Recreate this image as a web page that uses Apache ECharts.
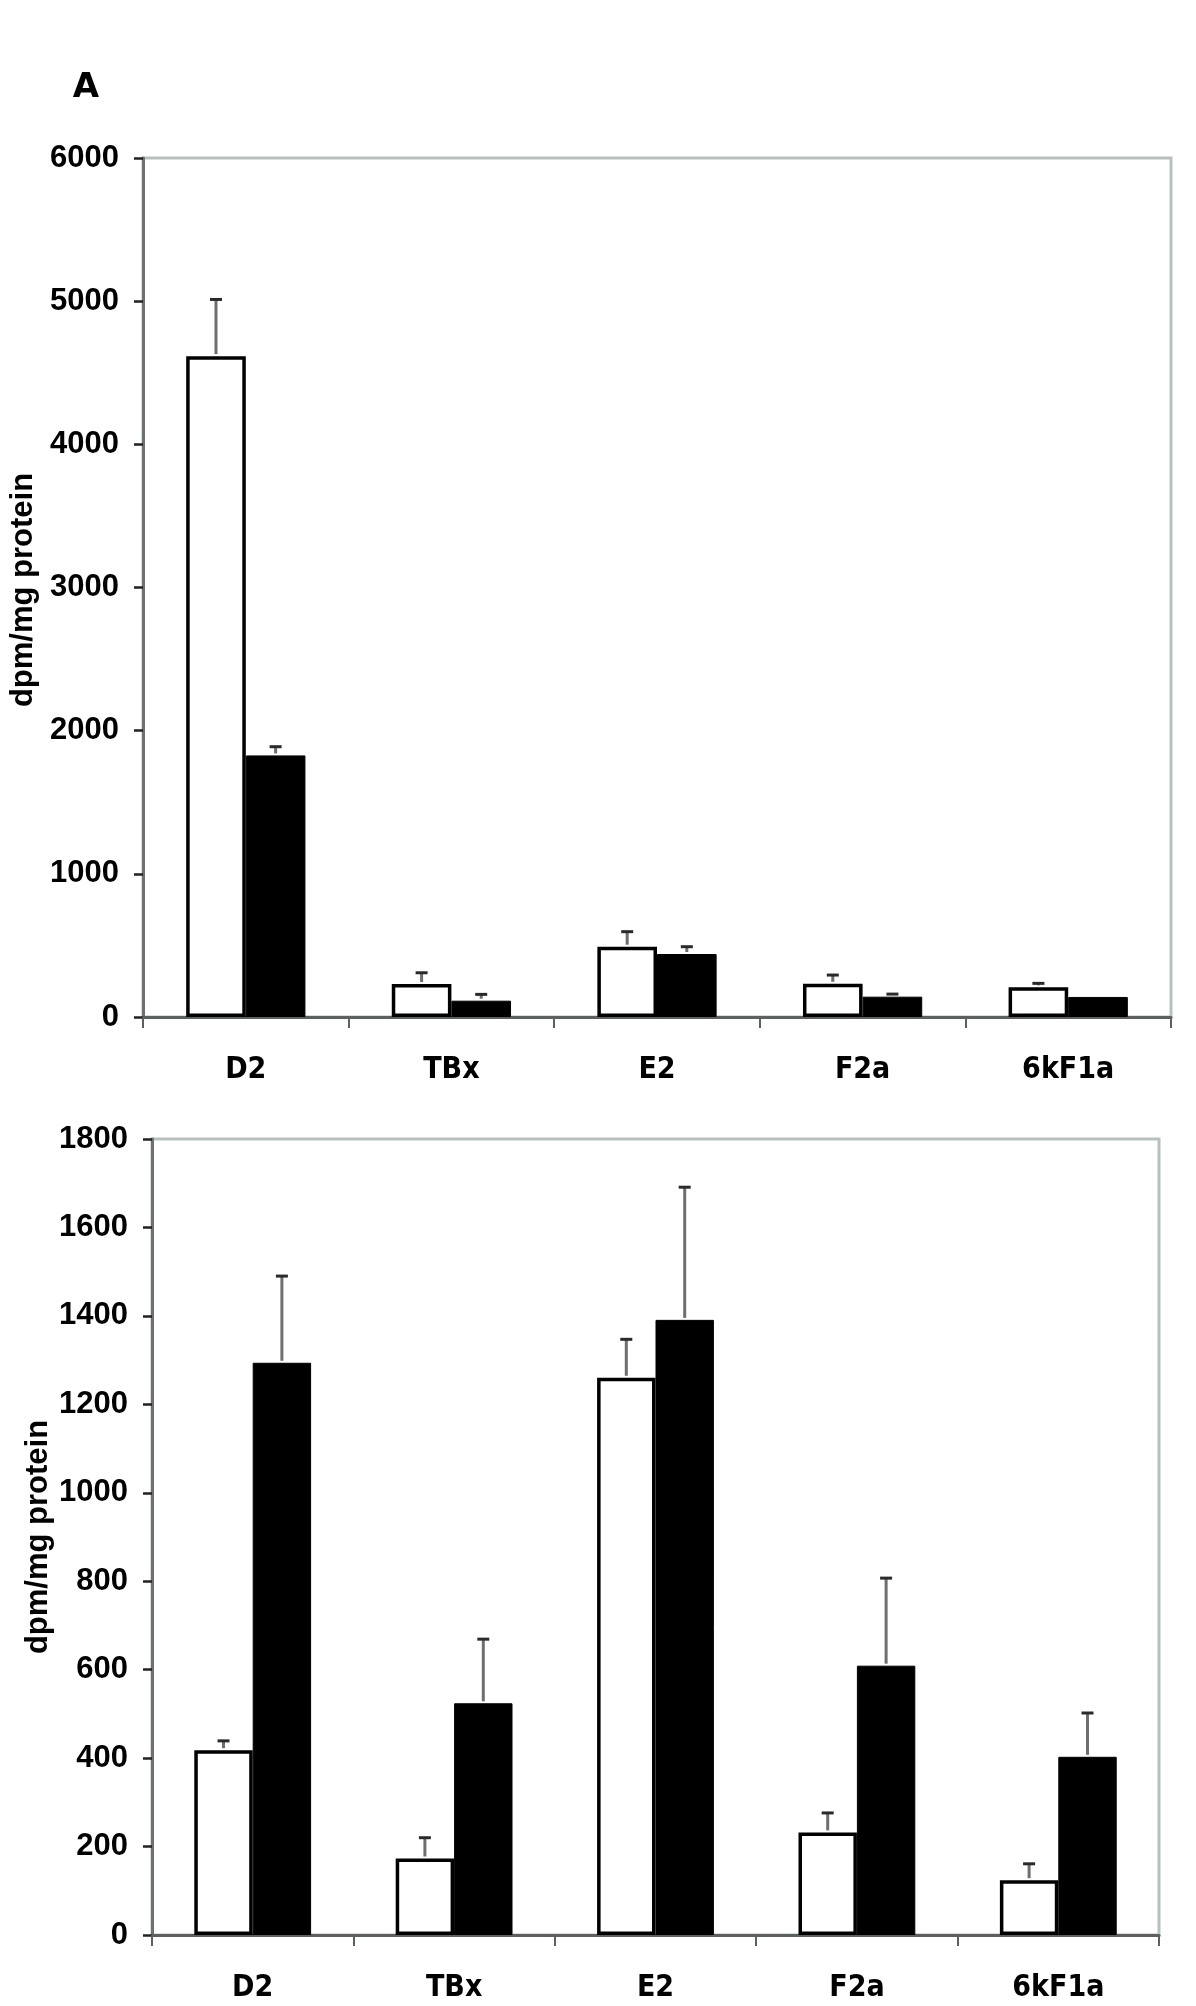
<!DOCTYPE html>
<html>
<head>
<meta charset="utf-8">
<script src="https://cdn.jsdelivr.net/npm/echarts@6/dist/echarts.min.js"></script>
<style>
html,body{margin:0;padding:0;background:#fff;}
#chart{width:1196px;height:2006px;}
</style>
</head>
<body>
<div id="chart"></div>
<script>
// ---- data ----
var categories = ['D2', 'TBx', 'E2', 'F2a', '6kF1a'];

// Panel A (top)
var topWhite    = [4616, 230, 491, 232, 207];
var topWhiteErr = [396, 79, 105, 61, 28];
var topBlack    = [1827, 114, 440, 142, 140];
var topBlackErr = [61, 44, 51, 18, 0];
var topTicks    = {min: 0, max: 6000, interval: 1000};

// Bottom panel
var botWhite    = [418, 173, 1260, 232, 124];
var botWhiteErr = [21, 47, 87, 44, 37];
var botBlack    = [1294, 524, 1391, 609, 403];
var botBlackErr = [196, 145, 300, 198, 99];
var botTicks    = {min: 0, max: 1800, interval: 200};

var yTitle = 'dpm/mg protein';
var panelLabel = 'A';

// ---- styling ----
var FONT = "'Liberation Sans', Arial, sans-serif";
var COND = "'DejaVu Sans Condensed', 'Liberation Sans', Arial, sans-serif";

function errRender(offsetFrac) {
  return function (params, api) {
    var idx = api.value(0);
    var mean = api.value(1);
    var err = api.value(2);
    if (!err) return null;
    var p0 = api.coord([idx, mean]);
    var p1 = api.coord([idx, mean + err]);
    var band = api.size([1, 0])[0];
    var x = p0[0] + offsetFrac * band;
    return {
      type: 'group',
      children: [
        {type: 'line', shape: {x1: x, y1: p0[1] - 2, x2: x, y2: p1[1]},
         style: {stroke: '#6e6e6e', lineWidth: 3}},
        {type: 'line', shape: {x1: x - 6, y1: p1[1], x2: x + 6, y2: p1[1]},
         style: {stroke: '#2a2a2a', lineWidth: 3}}
      ]
    };
  };
}

function errData(means, errs) {
  return means.map(function (m, i) { return [i, m, errs[i]]; });
}

function xAxis(gridIndex) {
  return {
    type: 'category', gridIndex: gridIndex, data: categories,
    axisLine: {lineStyle: {color: '#5c6160', width: 3}},
    axisTick: {show: true, length: 11, lineStyle: {color: '#5c6160', width: 2}},
    axisLabel: {color: '#000', fontFamily: COND, fontWeight: 'bold', fontSize: 30, margin: 38},
    splitLine: {show: false}
  };
}

function yAxis(gridIndex, t) {
  return {
    type: 'value', gridIndex: gridIndex, min: t.min, max: t.max, interval: t.interval,
    axisLine: {show: true, lineStyle: {color: '#6b7271', width: 3}},
    axisTick: {show: true, length: 9, lineStyle: {color: '#222', width: 2.5}},
    axisLabel: {color: '#000', fontFamily: FONT, fontWeight: 'bold', fontSize: 31, margin: 24,
      formatter: function (v) { return String(v); }},
    splitLine: {show: false}
  };
}

var barWhiteStyle = {color: '#fff', borderColor: '#000', borderWidth: 3.5};
var barBlackStyle = {color: '#000', borderColor: '#000', borderWidth: 1};

var option = {
  animation: false,
  backgroundColor: '#fff',
  grid: [
    {left: 143, top: 158, width: 1028, height: 859, show: true,
     borderColor: '#b7bfbf', borderWidth: 3, backgroundColor: 'transparent'},
    {left: 152, top: 1139, width: 1007, height: 796, show: true,
     borderColor: '#b7bfbf', borderWidth: 3, backgroundColor: 'transparent'}
  ],
  xAxis: [xAxis(0), xAxis(1)],
  yAxis: [yAxis(0, topTicks), yAxis(1, botTicks)],
  graphic: [
    {type: 'text', x: 86, y: 88, style: {text: panelLabel, fill: '#000',
      fontFamily: "'DejaVu Sans', sans-serif", fontWeight: 'bold', fontSize: 34,
      textAlign: 'center', textVerticalAlign: 'middle'}},
    {type: 'text', x: 23, y: 590, rotation: Math.PI / 2,
     style: {text: yTitle, fill: '#000', fontFamily: FONT, fontWeight: 'bold', fontSize: 31,
       textAlign: 'center', textVerticalAlign: 'middle'}},
    {type: 'text', x: 38, y: 1537, rotation: Math.PI / 2,
     style: {text: yTitle, fill: '#000', fontFamily: FONT, fontWeight: 'bold', fontSize: 31,
       textAlign: 'center', textVerticalAlign: 'middle'}}
  ],
  series: [
    {type: 'bar', xAxisIndex: 0, yAxisIndex: 0, data: topWhite, itemStyle: barWhiteStyle,
     barGap: '0%', barCategoryGap: '42%', z: 2},
    {type: 'bar', xAxisIndex: 0, yAxisIndex: 0, data: topBlack, itemStyle: barBlackStyle,
     barGap: '0%', barCategoryGap: '42%', z: 2},
    {type: 'custom', xAxisIndex: 0, yAxisIndex: 0, renderItem: errRender(-0.145),
     data: errData(topWhite, topWhiteErr), encode: {x: 0, y: 1}, z: 5},
    {type: 'custom', xAxisIndex: 0, yAxisIndex: 0, renderItem: errRender(0.145),
     data: errData(topBlack, topBlackErr), encode: {x: 0, y: 1}, z: 5},

    {type: 'bar', xAxisIndex: 1, yAxisIndex: 1, data: botWhite, itemStyle: barWhiteStyle,
     barGap: '0%', barCategoryGap: '42%', z: 2},
    {type: 'bar', xAxisIndex: 1, yAxisIndex: 1, data: botBlack, itemStyle: barBlackStyle,
     barGap: '0%', barCategoryGap: '42%', z: 2},
    {type: 'custom', xAxisIndex: 1, yAxisIndex: 1, renderItem: errRender(-0.145),
     data: errData(botWhite, botWhiteErr), encode: {x: 0, y: 1}, z: 5},
    {type: 'custom', xAxisIndex: 1, yAxisIndex: 1, renderItem: errRender(0.145),
     data: errData(botBlack, botBlackErr), encode: {x: 0, y: 1}, z: 5}
  ]
};

var chart = echarts.init(document.getElementById('chart'), null, {renderer: 'canvas'});
chart.setOption(option);
</script>
</body>
</html>
